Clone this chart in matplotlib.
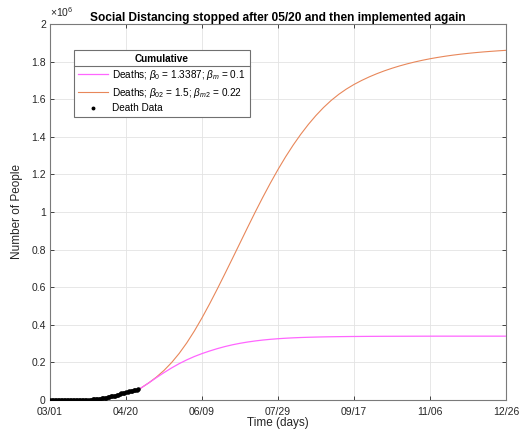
import matplotlib
matplotlib.use("Agg")
import matplotlib.pyplot as plt
from matplotlib.lines import Line2D
from matplotlib.ticker import FuncFormatter
import numpy as np

plt.rcParams['font.family'] = ['Liberation Sans', 'DejaVu Sans']
plt.rcParams['mathtext.fontset'] = 'custom'
plt.rcParams['mathtext.it'] = 'Liberation Sans:italic'
plt.rcParams['mathtext.rm'] = 'Liberation Sans'

# Reported cumulative deaths, one value per day from 03/01 (day 0) to 04/28 (day 58)
data_days = np.arange(0, 59)
data_deaths = [1, 6, 9, 11, 12, 15, 19, 22, 26, 30,
               38, 41, 48, 57, 69, 86, 109, 150, 207, 256,
               302, 414, 555, 780, 1027, 1295, 1695, 2221, 2757, 3160,
               4076, 5133, 6141, 7308, 8501, 9646, 10923, 12840, 14768, 16648,
               18777, 20607, 22115, 23640, 25954, 28458, 30913, 34571, 36658, 38613,
               40516, 42931, 45373, 47750, 49921, 51979, 53445, 54913, 56677]

# Model runs (thousands of deaths), day 58 onwards
model_days = [58, 60, 65, 70, 75, 80, 85, 90, 95, 100, 105, 110, 115, 120, 125,
              130, 135, 140, 145, 150, 155, 160, 165, 170, 175, 180, 185, 190, 195,
              200, 205, 210, 215, 220, 225, 230, 235, 240, 245, 250, 255, 260, 265,
              270, 275, 280, 285, 290, 295, 300]
deaths_b0 = [55.0, 64.5, 91.0, 118.8, 145.5, 170.5, 193.3, 213.5, 231.3, 246.8,
             260.5, 273.0, 284.0, 293.5, 301.5, 308.3, 314.0, 318.8, 322.7, 325.9,
             328.5, 330.6, 332.3, 333.6, 334.7, 335.6, 336.3, 336.9, 337.4, 337.8,
             338.1, 338.4, 338.6, 338.8, 338.9, 339.0, 339.1, 339.2, 339.3, 339.4,
             339.5, 339.5, 339.5, 339.5, 339.5, 339.5, 339.5, 339.5, 339.5, 339.5]
deaths_b02 = [55.0, 64.5, 91.3, 121.8, 157.3, 199.0, 247.8, 304.0, 367.3, 436.8,
              511.3, 589.5, 670.3, 752.3, 835.0, 917.8, 999.3, 1078.3, 1154.0, 1226.0,
              1293.5, 1356.0, 1413.5, 1466.0, 1513.5, 1556.0, 1593.5, 1626.0, 1654.0, 1678.3,
              1699.5, 1718.5, 1735.5, 1750.8, 1764.5, 1776.9, 1788.0, 1798.0, 1807.0, 1815.0,
              1822.1, 1828.5, 1834.2, 1839.2, 1843.7, 1847.7, 1851.3, 1854.4, 1857.3, 1859.8]

xtick_days = [0, 50, 100, 150, 200, 250, 300]
xtick_labels = ['03/01', '04/20', '06/09', '07/29', '09/17', '11/06', '12/26']

fig = plt.figure(figsize=(5.23, 4.36), dpi=100)
ax = fig.add_axes([0.0956, 0.0826, 0.8719, 0.8624])

ax.plot(model_days, np.array(deaths_b0) * 1e3, color='#ff66ff', lw=0.9,
        label=r'Deaths; $\beta_0$ = 1.3387; $\beta_m$ = 0.1', zorder=3)
ax.plot(model_days, np.array(deaths_b02) * 1e3, color='#e8875a', lw=0.8,
        label=r'Deaths; $\beta_{02}$ = 1.5; $\beta_{m2}$ = 0.22', zorder=2)
ax.plot(data_days, data_deaths, 'k.', ms=4.5, label='Death Data', zorder=4)

ax.set_xlim(0, 300)
ax.set_ylim(0, 2e6)
ax.set_xticks(xtick_days)
ax.set_xticklabels(xtick_labels)
ax.set_yticks(np.arange(0, 2.01e6, 0.2e6))
ax.yaxis.set_major_formatter(FuncFormatter(lambda v, p: f'{v / 1e6:g}'))

ax.grid(True, color='#e3e3e3', lw=0.6)
ax.set_axisbelow(True)
ax.tick_params(direction='in', length=3, width=0.6, top=True, right=True,
               labelsize=7.5, colors='#262626')
ax.tick_params(axis='x', pad=5)
ax.tick_params(axis='y', pad=3)
for s in ax.spines.values():
    s.set_color('#7a7a7a')
    s.set_linewidth(0.8)

ax.set_title('Social Distancing stopped after 05/20 and then implemented again',
             fontsize=8.6, fontweight='bold', pad=2)
ax.set_xlabel('Time (days)', fontsize=8.5, color='#262626', labelpad=0)
ax.set_ylabel('Number of People', fontsize=8.5, color='#262626', labelpad=6)
ax.text(0.0, 1.012, r'$\times10^{6}$', transform=ax.transAxes, fontsize=7.5,
        color='#262626', ha='left', va='bottom')

h, l = ax.get_legend_handles_labels()
leg = ax.legend(h, l, loc='upper left', bbox_to_anchor=(0.053, 0.931),
                borderaxespad=0, fontsize=7.2, title='Cumulative',
                title_fontproperties={'weight': 'bold', 'size': 7.2},
                fancybox=False, framealpha=1, edgecolor='#707070',
                handlelength=3.0, handletextpad=0.4, labelspacing=0.38,
                borderpad=0.4, markerscale=0.8)
leg.get_frame().set_linewidth(0.8)

# separator line under the legend title
fig.canvas.draw()
fb = leg.get_frame().get_window_extent()
tb = leg.get_title().get_window_extent()
inv = fig.transFigure.inverted()
(x0, y0) = inv.transform((fb.x0, tb.y0 - 2))
(x1, _) = inv.transform((fb.x1, tb.y0 - 2))
fig.add_artist(Line2D([x0, x1], [y0, y0], transform=fig.transFigure,
                      color='#707070', lw=0.8, zorder=10))

fig.savefig('out.png', dpi=100)
